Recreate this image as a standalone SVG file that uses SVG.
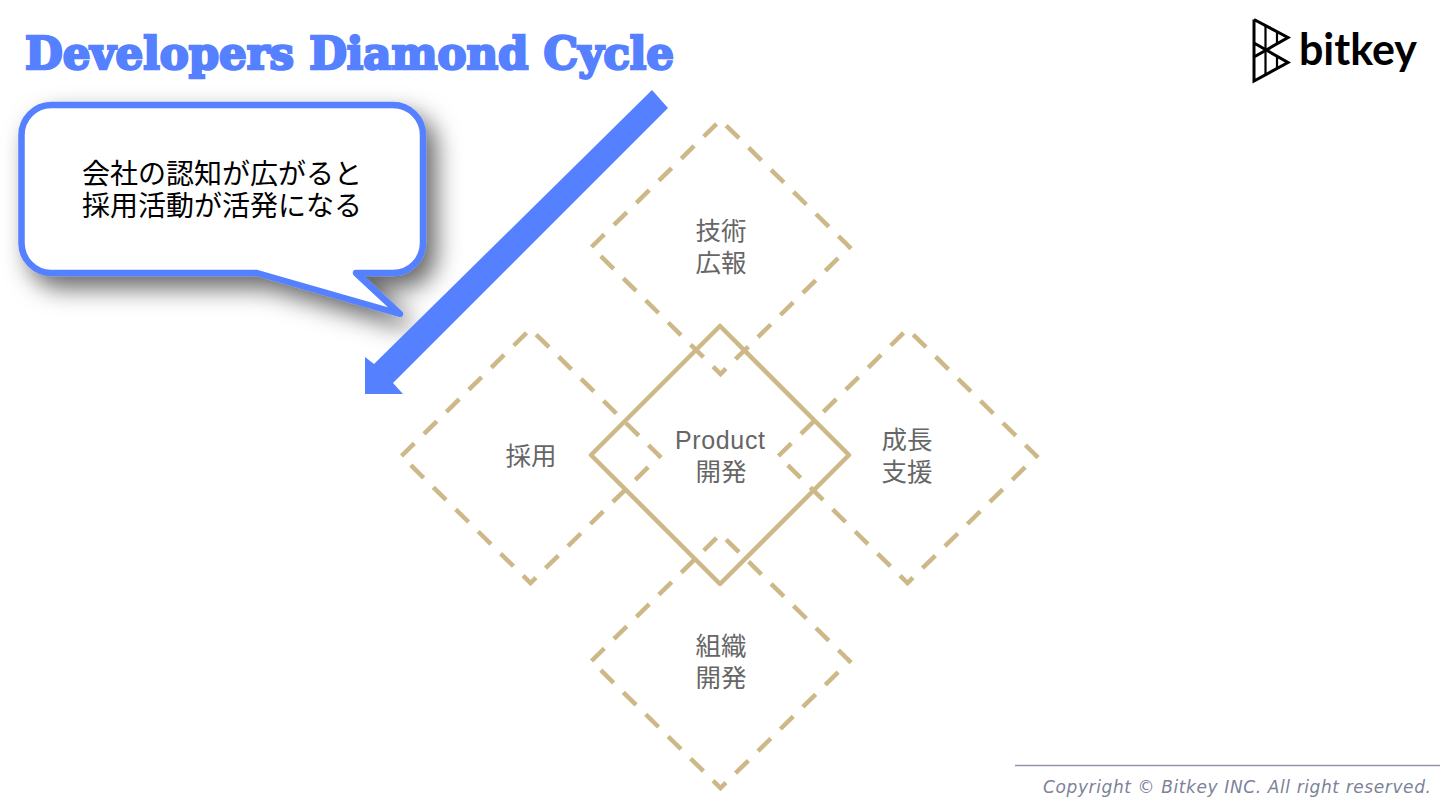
<svg xmlns="http://www.w3.org/2000/svg" width="1440" height="810" viewBox="0 0 1440 810">
<style>
.dash{fill:none;stroke:#cdb988;stroke-width:4.500;stroke-dasharray:18 13.500}
.solid{fill:none;stroke:#cdb988;stroke-width:4.500;stroke-linejoin:round}
.lbl{font-family:"Noto Sans CJK JP","Liberation Sans",sans-serif;font-size:25.500px;fill:#666;text-anchor:middle}
.call{font-family:"Noto Sans CJK JP",sans-serif;font-size:28px;fill:#000;text-anchor:middle}
.logo{fill:none;stroke:#000;stroke-width:3}
.logo2{fill:none;stroke:#000;stroke-width:2.200}
</style>
<defs>
<filter id="sh" x="-20%" y="-20%" width="150%" height="170%"><feDropShadow dx="10" dy="12" stdDeviation="12" flood-color="#000" flood-opacity=".6"/></filter>
</defs>
<rect width="1440" height="810" fill="#fff"/>
<text id="title" x="25" y="69" font-family="'DejaVu Serif',serif" font-weight="700" font-size="45" fill="#5580ff" stroke="#5580ff" stroke-width="2.600" stroke-linejoin="miter" textLength="649" lengthAdjust="spacingAndGlyphs">Developers Diamond Cycle</text>
<g id="logo">
<path class="logo" d="M1254 19.500V81L1288 62.500 1254 43M1254 19.500 1288 37.500 1254 57"/>
<path class="logo2" d="M1265.500 26V75M1277 31V44M1277 56V69"/>
<text x="1299" y="65" font-family="Lato,sans-serif" font-weight="700" font-size="43" fill="#000" textLength="118" lengthAdjust="spacingAndGlyphs">bitkey</text>
</g>
<g id="callout">
<path filter="url(#sh)" fill="#fff" stroke="#5580ff" stroke-width="6.500" stroke-linejoin="round" d="M51 105H393A30 30 0 0 1 423 135V243A30 30 0 0 1 393 273H356L400 314 257 273H51A30 30 0 0 1 21.500 243V135A30 30 0 0 1 51 105Z"/>
<text class="call" x="222" y="184">会社の認知が広がると</text>
<text class="call" x="222" y="216">採用活動が活発になる</text>
</g>
<g id="connectors">
<path id="arrow" fill="#5580ff" d="M652 90 668 108 393 383 403 394H365V357L374 364Z"/>
</g>
<g id="node-tech">
<path class="dash" d="M591.500 247 720.500 120 849.500 247 720.500 374Z"/>
<text class="lbl" x="721" y="240">技術</text><text class="lbl" x="721" y="272">広報</text>
</g>
<g id="node-recruit">
<path class="dash" d="M401.500 456 530.500 329 659.500 456 530.500 583Z"/>
<text class="lbl" x="531" y="465">採用</text>
</g>
<g id="node-growth">
<path class="dash" d="M778.500 456 907.500 329 1036.500 456 907.500 583Z"/>
<text class="lbl" x="907" y="449">成長</text><text class="lbl" x="907" y="481">支援</text>
</g>
<g id="node-org">
<path class="dash" d="M591.500 661 720.500 534 849.500 661 720.500 788Z"/>
<text class="lbl" x="721" y="655">組織</text><text class="lbl" x="721" y="687">開発</text>
</g>
<g id="node-product">
<path class="solid" d="M720 326 849 455 720 584 591 455Z"/>
<text x="720" y="449" font-family="'Liberation Sans',sans-serif" font-size="25" fill="#666" text-anchor="middle" textLength="90">Product</text>
<text class="lbl" x="721" y="481">開発</text>
</g>
<g id="footer">
<line x1="1015" y1="765.500" x2="1440" y2="765.500" stroke="#9096ad" stroke-width="1.500"/>
<text x="1043" y="793" font-family="'DejaVu Sans',sans-serif" font-style="italic" font-size="17" fill="#7c8299" textLength="388">Copyright © Bitkey INC. All right reserved.</text>
</g>
</svg>
